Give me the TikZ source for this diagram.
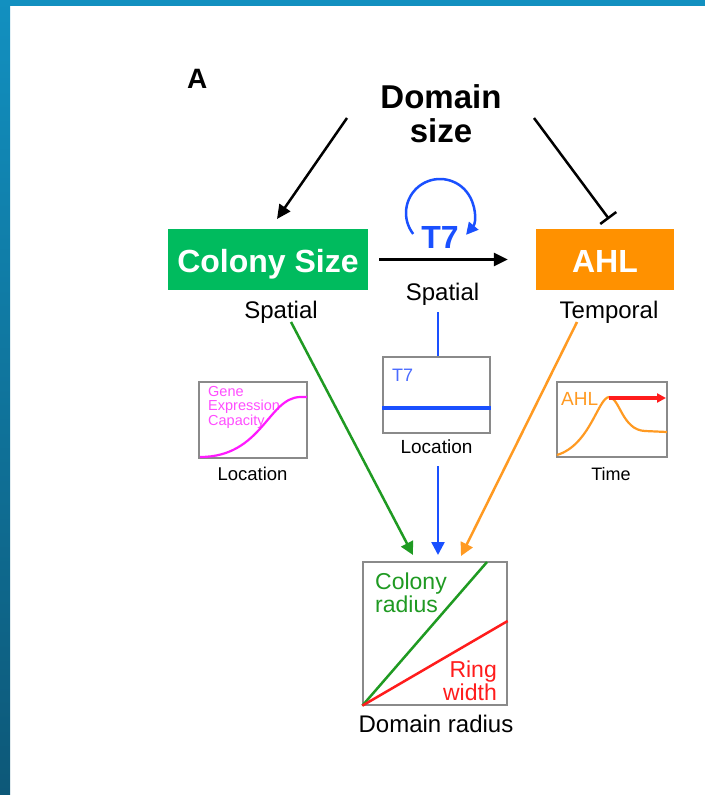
\documentclass[tikz,border=0pt]{standalone}
\usepackage{fontspec}
\setmainfont{Liberation Sans}
\usetikzlibrary{arrows.meta}

\definecolor{frametop}{HTML}{1290C0}
\definecolor{framebot}{HTML}{0D5878}
\definecolor{boxgreen}{HTML}{00BB5E}
\definecolor{boxorange}{HTML}{FF9100}
\definecolor{linegreen}{HTML}{1F9A22}
\definecolor{lineorange}{HTML}{FF9A22}
\definecolor{tblue}{HTML}{1A50FF}
\definecolor{tlight}{HTML}{4A6BFF}
\definecolor{ringred}{HTML}{FF1C1C}
\definecolor{framegray}{HTML}{8A8A8A}
\definecolor{genepink}{HTML}{FF1AFF}
\definecolor{genetext}{HTML}{FF4DFF}

\newcommand\setpx[1]{\fontsize{#1pt}{#1pt}\selectfont}

\begin{document}
\begin{tikzpicture}[x=1pt,y=-1pt,
  txt/.style={inner sep=0pt, anchor=base},
  lbl/.style={txt, font=\setpx{24}},
  small/.style={txt, font=\setpx{18.5}},
  bigbox/.style={inner sep=0pt, minimum height=61pt, text height=26pt, text depth=0pt,
                 text=white, font=\bfseries\setpx{32}},
  graybox/.style={draw=framegray, line width=1.3pt, inner sep=0pt},
  blackarr/.style={line width=2.5pt, -{Triangle[length=14pt,width=13pt]}},
  colarr/.style={line width=2.5pt, -{Triangle[length=13pt,width=13pt]}},
  inhib/.style={line width=2.5pt, -{Bar[width=20pt,line width=2.5pt]}}]

\useasboundingbox (0,0) rectangle (705,795);
\fill[white] (0,0) rectangle (705,795);

% slide frame
\fill[frametop] (0,0) rectangle (705,6);
\shade[top color=frametop, bottom color=framebot] (0,0) rectangle (10,795);

% panel letter and domain size
\node[txt, anchor=base west, font=\bfseries\setpx{28}] (panel) at (187,88) {A};
\node[txt, font=\bfseries\setpx{33}] (dom1) at (441,108) {Domain};
\node[txt, font=\bfseries\setpx{33}] (dom2) at (441,142.5) {size};

% main boxes
\node[bigbox, fill=boxgreen, minimum width=200pt] (colony) at (268,259.5) {Colony Size};
\node[bigbox, fill=boxorange, minimum width=138pt] (ahl) at (605,259.5) {AHL};

\node[lbl] (spL) at (281,318.8) {Spatial};
\node[lbl] (spM) at (442.5,300) {Spatial};
\node[lbl] (temp) at (609,318.8) {Temporal};

% T7 with its self-loop
\node[txt, text=tblue, font=\bfseries\setpx{32}] (t7) at (440,248) {T7};
\draw[tblue, line width=2.5pt, -{Triangle[length=12pt,width=12pt]}]
  ([yshift=35pt]t7.base) ++(218:34pt) arc[start angle=218, end angle=-40, radius=34pt];

% connectors from domain size
\coordinate (dsL) at (347,118);
\coordinate (dsR) at (534,118);
\coordinate (csIn) at (277,219);
\coordinate (ahlIn) at (609,219);
\draw[blackarr] (dsL) -- (csIn);
\draw[inhib] (dsR) -- (ahlIn);
\draw[blackarr, shorten <=11pt, shorten >=28pt] (colony.east) -- (ahl.west);

% gene expression capacity inset
\node[graybox, minimum width=108pt, minimum height=76pt] (gebox) at (253,420) {};
\node[txt, anchor=base west, text=genetext, font=\setpx{14.5}] (ge1) at (208,396) {Gene};
\node[txt, anchor=base west, text=genetext, font=\setpx{14.5}] (ge2) at (208,410.5) {Expression};
\node[txt, anchor=base west, text=genetext, font=\setpx{14.5}] (ge3) at (208,425) {Capacity};
\draw[genepink, line width=2.2pt] (200,457) .. controls (262,457) and (268,398) .. (300,397) -- (307,397);
\node[small] (locG) at (252.5,480) {Location};

% T7 inset
\node[graybox, minimum width=107pt, minimum height=76pt] (t7box) at (436.5,395) {};
\node[txt, anchor=base west, text=tlight, font=\setpx{18}] (t7s) at (392,381.7) {T7};
\draw[tblue, line width=3.5pt] (t7box.west |- 0,408) -- (t7box.east |- 0,408);
\node[small, font=\setpx{19}] (locT) at (436.5,453) {Location};

% AHL inset
\node[graybox, minimum width=110pt, minimum height=75pt] (ahlbox) at (612,419.5) {};
\node[txt, anchor=base west, text=lineorange, font=\setpx{19}] (ahls) at (561,405) {AHL};
\draw[lineorange, line width=2.2pt] (557,455) .. controls (590,445) and (598,398) .. (609,397)
  .. controls (620,398) and (622,430) .. (645,431) -- (667,432);
\draw[ringred, line width=3.5pt, -{Triangle[length=9pt,width=9pt]}] (609,398) -- (666,398);
\node[small, font=\setpx{18}] (timeL) at (611,480) {Time};

% result plot
\node[graybox, minimum width=144pt, minimum height=143pt] (res) at (435,633.5) {};
\draw[linegreen, line width=2.5pt] (res.south west) -- (487,562);
\draw[ringred, line width=2.5pt] (res.south west) -- (res.east |- 0,621);
\node[txt, anchor=base west, text=linegreen, font=\setpx{23}] (cr1) at (375,589) {Colony};
\node[txt, anchor=base west, text=linegreen, font=\setpx{23}] (cr2) at (375,612) {radius};
\node[txt, anchor=base east, text=ringred, font=\setpx{23}] (rw1) at (497,677) {Ring};
\node[txt, anchor=base east, text=ringred, font=\setpx{23}] (rw2) at (497,700) {width};
\node[lbl] (domr) at (436,732) {Domain radius};

% converging connectors
\coordinate (gStart) at (291,322);
\coordinate (gEnd) at (413,555);
\coordinate (oStart) at (577,322);
\coordinate (oEnd) at (461,556);
\coordinate (bTop) at (438,312);
\coordinate (bMid) at (438,466);
\coordinate (bEnd) at (438,555);
\draw[linegreen, colarr] (gStart) -- (gEnd);
\draw[lineorange, colarr] (oStart) -- (oEnd);
\draw[tblue, line width=2.5pt] (bTop) -- (bTop |- t7box.north);
\draw[tblue, colarr] (bMid) -- (bEnd);

\end{tikzpicture}
\end{document}
